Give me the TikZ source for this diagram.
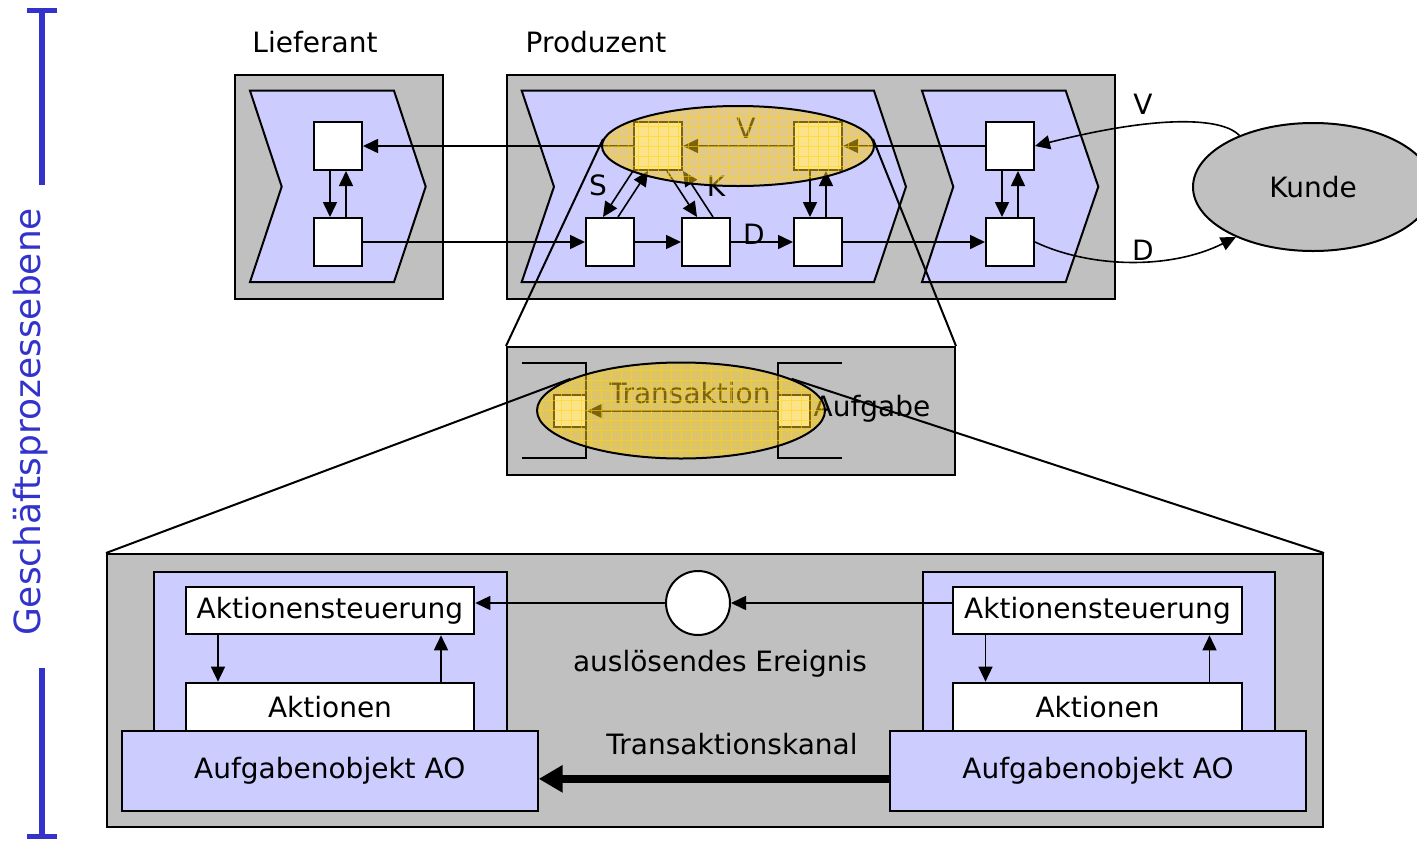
\documentclass[tikz,border=0pt]{standalone}
\usepackage{fontspec}
\setmainfont{DejaVu Sans}
\usetikzlibrary{shapes.geometric,arrows.meta,calc}
\definecolor{gr}{RGB}{192,192,192}
\definecolor{lav}{RGB}{204,204,255}
\definecolor{axblue}{RGB}{51,51,204}
\definecolor{hlfill}{RGB}{250,200,20}
\definecolor{hlgrid}{RGB}{255,215,0}
\begin{document}
\begin{tikzpicture}[x=1pt,y=-1pt,
  every node/.style={font=\fontsize{28}{32}\selectfont},
  gbox/.style={draw=black,line width=2pt,fill=gr,inner sep=0,anchor=north west},
  sq/.style={draw,line width=2pt,fill=white,minimum width=48pt,minimum height=48pt,inner sep=0},
  wbox/.style={draw,line width=2pt,fill=white,inner sep=0},
  lbox/.style={draw,line width=2pt,fill=lav,inner sep=0},
  chev/.style={draw,line width=2pt,fill=lav,line join=miter},
  con/.style={line width=1.6pt,-{Triangle[length=15pt,width=14pt]}},
  fun/.style={line width=2pt},
  hl/.style={ellipse,draw=black,line width=2pt,fill=hlfill,fill opacity=0.5,text opacity=1,inner sep=0,
    path picture={\draw[hlgrid,line width=0.8pt,draw opacity=0.55,step=10pt]
      (path picture bounding box.south west) grid (path picture bounding box.north east);}},
  axis/.style={axblue,line width=6pt}
]
\clip (0,0) rectangle (1417,844);
\fill[white] (0,0) rectangle (1417,844);

% left axis
\draw[axis] (42,8) -- (42,185);
\draw[axis,line width=5pt] (27,10) -- (57,10);
\draw[axis] (42,668) -- (42,838);
\draw[axis,line width=5pt] (27,836) -- (57,836);
\node[rotate=90,text=axblue,font=\fontsize{36}{40}\selectfont] (axlab) at (31,422) {Geschäftsprozessebene};

% top containers
\node[gbox,minimum width=208pt,minimum height=224pt] (lief) at (234,74) {};
\node[gbox,minimum width=608pt,minimum height=224pt] (prod) at (506,74) {};
\node (lieflab) at (315,42) {Lieferant};
\node (prodlab) at (596,42) {Produzent};

% chevrons
\draw[chev] (250,90.7) -- (394,90.7) -- (425.7,186.7) -- (394,282) -- (250,282) -- (281.7,186.7) -- cycle;
\draw[chev] (521.7,90.7) -- (874,90.7) -- (906,186.7) -- (874,282) -- (521.7,282) -- (554,186.7) -- cycle;
\draw[chev] (922,90.7) -- (1065.7,90.7) -- (1098.3,186.7) -- (1065.7,282) -- (922,282) -- (953.3,186.7) -- cycle;

% middle and bottom containers
\node[gbox,minimum width=448pt,minimum height=128pt] (mid) at (506,346) {};
\node[gbox,minimum width=1216pt,minimum height=273pt] (bot) at (106,553) {};

% top boxes
\node[sq] (L1) at (338,146) {};
\node[sq] (L2) at (338,242) {};
\node[sq] (Y1) at (658,146) {};
\node[sq] (Y2) at (818,146) {};
\node[sq] (A1) at (610,242) {};
\node[sq] (A2) at (706,242) {};
\node[sq] (A3) at (818,242) {};
\node[sq] (R1) at (1010,146) {};
\node[sq] (R2) at (1010,242) {};

% Kunde
\node[ellipse,draw,line width=2pt,fill=gr,minimum width=240pt,minimum height=128pt,inner sep=0] (kunde) at (1313,187) {Kunde};

% top connectors
\draw[con] (R1.west) -- (Y2.east);
\draw[con] (Y2.west) -- (Y1.east);
\draw[con] (Y1.west) -- (L1.east);
\draw[con] (L2.east) -- (A1.west);
\draw[con] (A1.east) -- (A2.west);
\draw[con] (A2.east) -- (A3.west);
\draw[con] (A3.east) -- (R2.west);
\draw[con] ([xshift=-8pt]L1.south) -- ([xshift=-8pt]L2.north);
\draw[con] ([xshift=8pt]L2.north) -- ([xshift=8pt]L1.south);
\draw[con] ([xshift=-8pt]R1.south) -- ([xshift=-8pt]R2.north);
\draw[con] ([xshift=8pt]R2.north) -- ([xshift=8pt]R1.south);
\draw[con] ([xshift=-8pt]Y2.south) -- ([xshift=-8pt]A3.north);
\draw[con] ([xshift=8pt]A3.north) -- ([xshift=8pt]Y2.south);
\draw[con] ([xshift=-25pt]Y1.south) -- ([xshift=-7pt]A1.north);
\draw[con] ([xshift=8pt]A1.north) -- ([xshift=-10pt]Y1.south);
\draw[con] ([xshift=9pt]Y1.south) -- ([xshift=-9pt]A2.north);
\draw[con] ([xshift=7pt]A2.north) -- (Y1.south east);
\draw[con] (kunde.145) .. controls (1225,120) and (1170,112) .. (R1.east);
\draw[con] (R2.east) .. controls (1090,268) and (1170,270) .. (kunde.213);

% top labels
\node (lV) at (746,128) {V};
\node (lS) at (598,185) {S};
\node (lK) at (716,186) {K};
\node (lD) at (754,234) {D};
\node (kV) at (1143,104) {V};
\node (kD) at (1143,250) {D};

% middle content
\draw[fun] (521.7,362.7) -- (586,362.7) -- (586,458.3) -- (521.7,458.3);
\draw[fun] (842.3,362.7) -- (778.3,362.7) -- (778.3,458.3) -- (842.3,458.3);
\node[sq,minimum width=32pt,minimum height=32pt] (sl) at (570,411) {};
\node[sq,minimum width=32pt,minimum height=32pt] (sr) at (794,411) {};
\draw[con] (sr.west) -- (sl.east);
\node (trlab) at (690,393) {Transaktion};
\node (auf) at (872,409) {Aufgabe};

% highlight ellipses
\node[hl,minimum width=272pt,minimum height=80pt] (e1) at (738,146) {};
\node[hl,minimum width=288pt,minimum height=96pt] (e2) at (681,410.5) {};

% funnel lines
\draw[fun] (e1.177) -- (mid.north west);
\draw[fun] (e1.3) -- (mid.north east);
\draw[fun] (e2.164) -- (bot.north west);
\draw[fun] (e2.16) -- (bot.north east);

% bottom content
\node[lbox,anchor=north west,minimum width=352.7pt,minimum height=159.3pt] (pL) at (153.3,570.7) {};
\node[lbox,anchor=north west,minimum width=352pt,minimum height=159.3pt] (pR) at (922.3,570.7) {};
\node[wbox,minimum width=288.6pt,minimum height=47.6pt] (asL) at (330,610.5) {Aktionensteuerung};
\node[wbox,minimum width=288.4pt,minimum height=47.6pt] (asR) at (1097.5,610.5) {Aktionensteuerung};
\node[wbox,minimum width=288.6pt,minimum height=48.3pt] (akL) at (330,706.8) {Aktionen};
\node[wbox,minimum width=288.4pt,minimum height=48.3pt] (akR) at (1097.5,706.8) {Aktionen};
\node[lbox,minimum width=416pt,minimum height=79.7pt] (aoL) at (329.7,770.85) {Aufgabenobjekt AO};
\node[lbox,minimum width=416pt,minimum height=79.7pt] (aoR) at (1098,770.85) {Aufgabenobjekt AO};
\draw[con] ([xshift=-112pt]asL.south) -- ([xshift=-112pt]akL.north);
\draw[con] ([xshift=111pt]akL.north) -- ([xshift=111pt]asL.south);
\draw[con] ([xshift=-112pt]asR.south) -- ([xshift=-112pt]akR.north);
\draw[con] ([xshift=112pt]akR.north) -- ([xshift=112pt]asR.south);
\node[circle,draw,line width=2pt,fill=white,minimum size=64pt,inner sep=0] (ev) at (698,603) {};
\draw[con] (ev.east -| asR.west) -- (ev.east);
\draw[con] (ev.west) -- (ev.west -| asL.east);
\node (evlab) at (720,664) {auslösendes Ereignis};
\node (kanal) at (732,744) {Transaktionskanal};
\draw[line width=8pt,-{Triangle[length=24pt,width=26pt]}] ([yshift=-8pt]aoR.west) -- ([yshift=-8pt]aoL.east);
\end{tikzpicture}
\end{document}
